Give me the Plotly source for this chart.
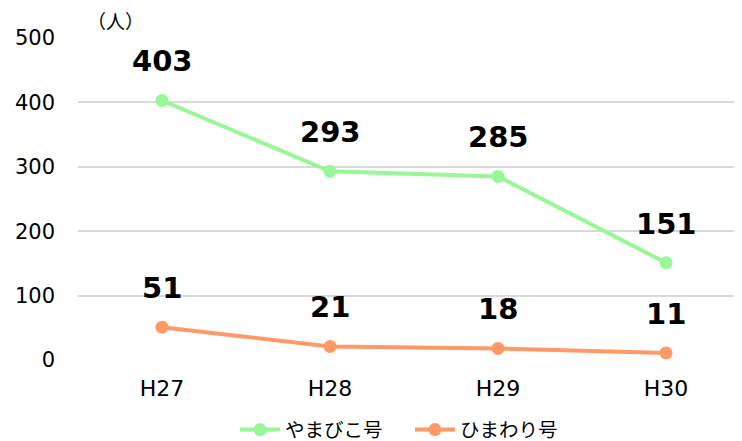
import plotly.graph_objects as go

categories = ["H27", "H28", "H29", "H30"]
yamabiko = [403, 293, 285, 151]
himawari = [51, 21, 18, 11]
y_ticks = [0, 100, 200, 300, 400, 500]

GREEN = "#99F797"
ORANGE = "#FF9966"
FONT = "DejaVu Sans, Noto Sans CJK JP, sans-serif"

fig = go.Figure()
for name, vals, col in [("やまびこ号", yamabiko, GREEN), ("ひまわり号", himawari, ORANGE)]:
    fig.add_trace(go.Scatter(
        x=categories, y=vals, name=name, mode="lines+markers",
        line=dict(color=col, width=4), marker=dict(color=col, size=13),
    ))
    for c, v in zip(categories, vals):
        fig.add_annotation(x=c, y=v, text=f"<b>{v}</b>", showarrow=False,
                           yshift=39, font=dict(size=29, color="black", family=FONT))

fig.add_annotation(xref="paper", yref="paper", x=0.057, y=1.05, xanchor="center",
                   yanchor="middle", text="（人）",
                   showarrow=False, font=dict(size=19, color="black", family=FONT))

# page body has an 8px default margin; the figure is sized to fit the window
fig.update_layout(
    width=734, height=433,
    margin=dict(l=70, r=0, t=30, b=81, autoexpand=False),
    plot_bgcolor="white", paper_bgcolor="white",
    font=dict(family=FONT, size=21, color="black"),
    showlegend=True,
    legend=dict(orientation="h", x=0.5, xanchor="center", y=-0.217, yanchor="middle",
                font=dict(size=19.5, family=FONT), itemwidth=40,
                entrywidth=120, entrywidthmode="pixels"),
    xaxis=dict(type="category", range=[-0.5, 3.452], showgrid=False, zeroline=False,
               showline=False, ticks="", tickfont=dict(size=22), automargin=False,
               ticklabelstandoff=13),
    yaxis=dict(range=[0, 500], tickvals=y_ticks, showgrid=True, gridcolor="#D9D9D9",
               gridwidth=1.5, zeroline=False, ticks="", tickfont=dict(size=21),
               ticklabelstandoff=22, automargin=False),
)

fig.write_html("out.html")
